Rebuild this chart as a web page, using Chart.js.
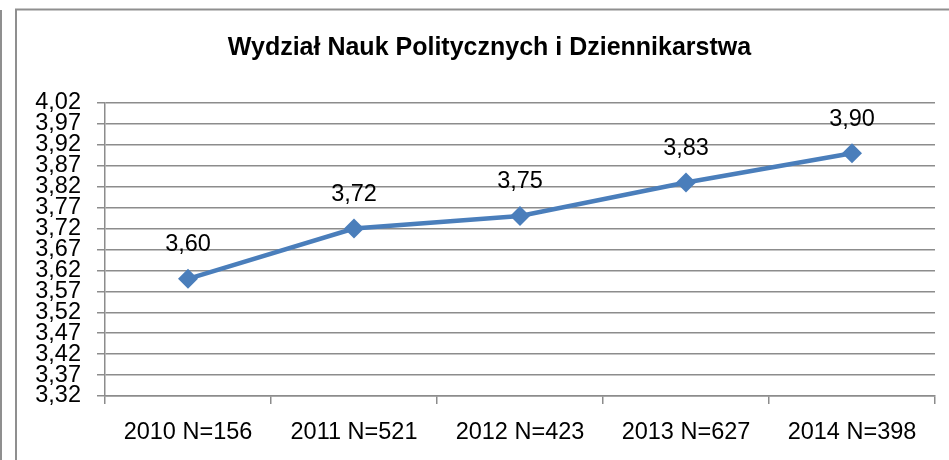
<!DOCTYPE html>
<html><head><meta charset="utf-8">
<script src="https://cdn.jsdelivr.net/npm/chart.js@4/dist/chart.umd.min.js"></script>
<style>html,body{margin:0;padding:0;background:#fff}#wrap{width:949px;height:460px;position:relative}</style>
</head><body><div id="wrap"><canvas id="c" width="949" height="460"></canvas></div>
<script>
const titleText = 'Wydział Nauk Politycznych i Dziennikarstwa';
const categories = ['2010 N=156', '2011 N=521', '2012 N=423', '2013 N=627', '2014 N=398'];
const values = [3.60, 3.72, 3.75, 3.83, 3.90];
const yMin = 3.32;
const yMax = 4.02;
const yStep = 0.05;

const FONT = '"Liberation Sans", Arial, sans-serif';
const fmt = v => v.toFixed(2).replace('.', ',');

const framePlugin = {
  id: 'frame',
  afterLayout(chart) {
    const tb = chart.titleBlock;
    if (tb) { tb.left = 44; tb.right = 935; tb.width = 891; }
  },
  beforeDraw(chart) {
    const ctx = chart.ctx;
    ctx.save();
    ctx.fillStyle = '#fff';
    ctx.fillRect(0, 0, chart.width, chart.height);
    ctx.strokeStyle = '#8f8f8f';
    ctx.lineWidth = 2;
    ctx.beginPath();
    ctx.moveTo(1, 10); ctx.lineTo(1, chart.height);
    ctx.moveTo(16, chart.height); ctx.lineTo(16, 9.5); ctx.lineTo(chart.width, 9.5);
    ctx.stroke();
    ctx.restore();
  }
};

const valueLabels = {
  id: 'valueLabels',
  afterDatasetsDraw(chart) {
    const ctx = chart.ctx;
    const meta = chart.getDatasetMeta(0);
    ctx.save();
    ctx.font = '23.5px ' + FONT;
    ctx.fillStyle = '#000';
    ctx.textAlign = 'center';
    ctx.textBaseline = 'middle';
    meta.data.forEach((p, i) => {
      ctx.fillText(fmt(values[i]), p.x, p.y - 34);
    });
    ctx.restore();
  }
};

new Chart(document.getElementById('c'), {
  type: 'line',
  data: {
    labels: categories,
    datasets: [{
      data: values,
      borderColor: '#4a7ebb',
      backgroundColor: '#4a7ebb',
      borderWidth: 4.5,
      pointStyle: 'rectRot',
      pointRadius: 10,
      pointBorderWidth: 0,
      pointBackgroundColor: '#4a7ebb',
      tension: 0,
      fill: false
    }]
  },
  options: {
    responsive: false,
    animation: false,
    devicePixelRatio: 1,
    layout: { padding: { left: 0, right: 14, top: 0, bottom: 0 } },
    plugins: {
      legend: { display: false },
      tooltip: { enabled: false },
      title: {
        display: true,
        text: titleText,
        color: '#000',
        font: { family: FONT, weight: 'bold', size: 25 },
        padding: { top: 33, bottom: 40 }
      }
    },
    scales: {
      x: {
        offset: true,
        grid: { offset: true, drawOnChartArea: false, drawTicks: true, tickLength: 8, color: '#8c8c8c', lineWidth: 1.5 },
        border: { color: '#8c8c8c', width: 1.5 },
        ticks: { color: '#000', font: { family: FONT, size: 23.5 }, padding: 14, maxRotation: 0, autoSkip: false },
        afterFit(s) { s.height = 64; }
      },
      y: {
        min: yMin,
        max: yMax,
        grid: { color: '#8c8c8c', lineWidth: 1.5, tickLength: 8, drawTicks: true },
        border: { color: '#8c8c8c', width: 1.5 },
        ticks: {
          stepSize: yStep, autoSkip: false, padding: 16, color: '#000',
          font: { family: FONT, size: 23.5 },
          callback: v => fmt(v)
        },
        afterFit(s) { s.width = 105; }
      }
    }
  },
  plugins: [framePlugin, valueLabels]
});
</script>
</body></html>
